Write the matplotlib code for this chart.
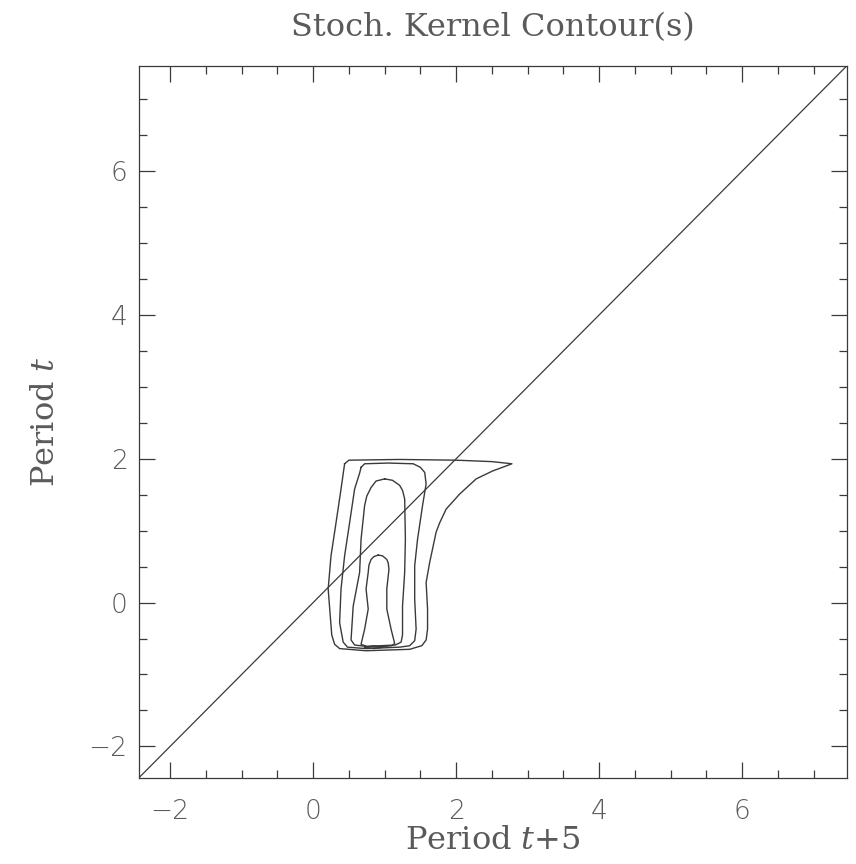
import numpy as np
import matplotlib.pyplot as plt
from matplotlib.ticker import MultipleLocator

# contour paths (x = period t+5, y = period t)
c1_x = [0.44, 0.50, 1.20, 2.00, 2.50, 2.78, 2.70, 2.51, 2.28, 2.05, 1.86, 1.77, 1.72, 1.63, 1.58, 1.60, 1.60, 1.58, 1.52, 1.35, 0.74, 0.37, 0.30, 0.26, 0.21, 0.25, 0.32, 0.39, 0.44]
c1_y = [1.93, 1.98, 1.99, 1.98, 1.96, 1.93, 1.90, 1.83, 1.72, 1.51, 1.30, 1.11, 0.98, 0.56, 0.28, -0.09, -0.37, -0.52, -0.60, -0.65, -0.67, -0.64, -0.58, -0.45, 0.19, 0.65, 1.11, 1.58, 1.93]

c2_x = [0.67, 0.72, 1.05, 1.40, 1.50, 1.56, 1.58, 1.53, 1.46, 1.42, 1.42, 1.44, 1.42, 1.35, 1.21, 0.74, 0.48, 0.42, 0.37, 0.39, 0.44, 0.51, 0.58, 0.65, 0.67]
c2_y = [1.88, 1.93, 1.94, 1.93, 1.88, 1.81, 1.65, 1.35, 0.88, 0.51, 0.05, -0.37, -0.53, -0.60, -0.62, -0.64, -0.62, -0.55, -0.28, 0.19, 0.65, 1.11, 1.58, 1.80, 1.88]

c3_x = [1.00, 0.88, 0.81, 0.75, 0.72, 0.67, 0.65, 0.56, 0.53, 0.58, 0.74, 1.15, 1.23, 1.25, 1.25, 1.28, 1.29, 1.28, 1.25, 1.21, 1.11, 1.00]
c3_y = [1.72, 1.69, 1.60, 1.48, 1.35, 0.88, 0.42, -0.05, -0.52, -0.59, -0.61, -0.59, -0.55, -0.45, -0.05, 0.42, 0.88, 1.44, 1.56, 1.63, 1.70, 1.72]

c4_x = [0.91, 0.85, 0.81, 0.78, 0.77, 0.74, 0.77, 0.72, 0.67, 0.75, 0.88, 1.10, 1.14, 1.09, 1.03, 1.03, 1.06, 1.05, 1.03, 0.97, 0.91]
c4_y = [0.66, 0.64, 0.60, 0.52, 0.42, 0.19, -0.09, -0.37, -0.58, -0.61, -0.62, -0.60, -0.57, -0.37, -0.09, 0.19, 0.46, 0.55, 0.60, 0.65, 0.66]

c5_x = [0.72, 0.85, 0.98, 0.85, 0.72]
c5_y = [-0.62, -0.60, -0.62, -0.64, -0.62]

contours = [(c1_x, c1_y), (c2_x, c2_y), (c3_x, c3_y), (c4_x, c4_y), (c5_x, c5_y)]
lims = [-2.44, 7.46]

plt.rcParams["mathtext.fontset"] = "dejavuserif"

fig = plt.figure(figsize=(8.56, 8.64), dpi=100)
ax = fig.add_axes([0.162, 0.0995, 0.827, 0.824])

line_col = "#3a3a3a"
text_col = "#5a5a5a"

for xs, ys in contours:
    ax.plot(xs, ys, color=line_col, lw=1.0)

ax.plot(lims, lims, color=line_col, lw=0.9)

ax.set_xlim(lims)
ax.set_ylim(lims)

for ax_ in [ax.xaxis, ax.yaxis]:
    ax_.set_major_locator(MultipleLocator(2))
    ax_.set_minor_locator(MultipleLocator(0.5))
ax.tick_params(which="both", direction="in", top=True, right=True, color=line_col, width=0.9)
ax.tick_params(which="major", length=11.5)
ax.tick_params(which="minor", length=5.5)
ax.tick_params(axis="x", which="major", pad=15)
ax.tick_params(axis="y", which="major", pad=8)
for lab in ax.get_xticklabels() + ax.get_yticklabels():
    lab.set_fontfamily("DejaVu Sans")
    lab.set_fontweight("light")
    lab.set_fontsize(19)
    lab.set_color(text_col)

for s in ax.spines.values():
    s.set_color(line_col)
    s.set_linewidth(0.9)

ax.set_xlabel("Period $t$+5", fontsize=23, family="DejaVu Serif", color=text_col, labelpad=1)
ax.set_ylabel("Period $t$", fontsize=23, family="DejaVu Serif", color=text_col, labelpad=20)
ax.set_title("Stoch. Kernel Contour(s)", fontsize=23, family="DejaVu Serif", color=text_col, pad=22)

fig.savefig("out.png", dpi=100)
